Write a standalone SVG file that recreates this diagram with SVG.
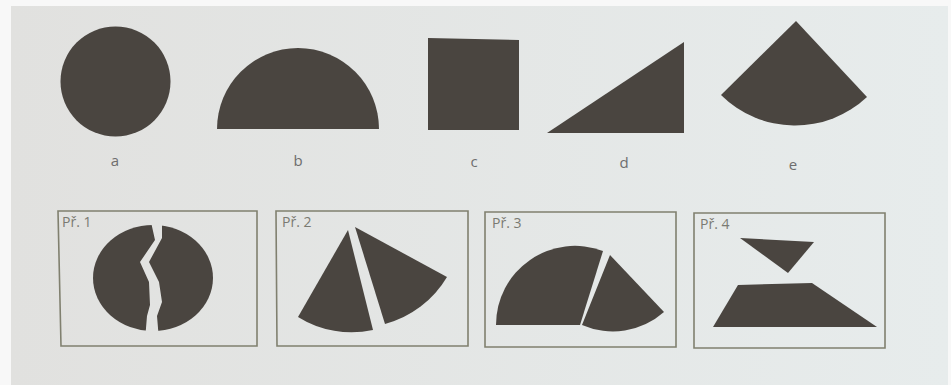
<svg xmlns="http://www.w3.org/2000/svg" width="951" height="385" viewBox="0 0 951 385">
<style>
.shape{fill:#4a4540}
.lbl{font-family:"Open Sans","Liberation Sans",sans-serif;font-size:15px;fill:#6e6e6e;text-anchor:middle}
.plbl{font-family:"Open Sans","Liberation Sans",sans-serif;font-size:14px;fill:#7a7a72}
.box{fill:none;stroke:#80806f;stroke-width:1.6}
</style>
<defs>
<linearGradient id="pg" x1="0" y1="0" x2="1" y2="0">
<stop offset="0" stop-color="#e1e1df"/>
<stop offset="1" stop-color="#e7ecec"/>
</linearGradient>
<clipPath id="cl"><polygon points="80,210 151,210 151,222 155,240 140,262 149,282 150,305 147,316 145,340 80,340"/></clipPath>
<clipPath id="cr"><polygon points="162,210 162,238 149,262 159,282 162,302 157,316 159,340 230,340 230,210"/></clipPath>
</defs>
<rect x="0" y="0" width="951" height="385" fill="#f8f8f8"/>
<rect x="11" y="6" width="937" height="379" fill="url(#pg)"/>

<g id="shape-a"><circle class="shape" cx="115.5" cy="81.5" r="55"/><text class="lbl" x="115" y="166">a</text></g>
<g id="shape-b"><path class="shape" d="M217,129 A81,81 0 0 1 379,129 Z"/><text class="lbl" x="298" y="166">b</text></g>
<g id="shape-c"><polygon class="shape" points="428,38 519,40 519,130 428,130"/><text class="lbl" x="474" y="167">c</text></g>
<g id="shape-d"><polygon class="shape" points="547,133 684,42 684,133"/><text class="lbl" x="624" y="168">d</text></g>
<g id="shape-e"><path class="shape" d="M796,21 L721,95 A105,105 0 0 0 867,97 Z"/><text class="lbl" x="793" y="170">e</text></g>

<g id="ex1">
<polygon class="box" points="58,211 257,211 257,346 61,346"/>
<text class="plbl" x="62" y="227">Př. 1</text>
<ellipse class="shape" cx="153" cy="278" rx="60" ry="53" clip-path="url(#cl)"/>
<ellipse class="shape" cx="153" cy="278" rx="60" ry="53" clip-path="url(#cr)"/>
</g>
<g id="ex2">
<polygon class="box" points="276,211 468,211 468,346 277,346"/>
<text class="plbl" x="282" y="227">Př. 2</text>
<path class="shape" d="M348,230 L298,317 A101,101 0 0 0 373,330 Z"/>
<path class="shape" d="M355,227 L385,324 A103,103 0 0 0 447,277 Z"/>
</g>
<g id="ex3">
<polygon class="box" points="485,212 676,212 676,347 485,347"/>
<text class="plbl" x="492" y="228">Př. 3</text>
<path class="shape" d="M496,325 A79,79 0 0 1 603,251 L580,325 Z"/>
<path class="shape" d="M610,255 L582,325 A77,77 0 0 0 664,312 Z"/>
</g>
<g id="ex4">
<polygon class="box" points="694,213 885,213 885,348 694,348"/>
<text class="plbl" x="700" y="229">Př. 4</text>
<polygon class="shape" points="740,238 814,242 788,273"/>
<polygon class="shape" points="713,327 738,285 812,283 877,327"/>
</g>
<g id="connectors"></g>
</svg>
